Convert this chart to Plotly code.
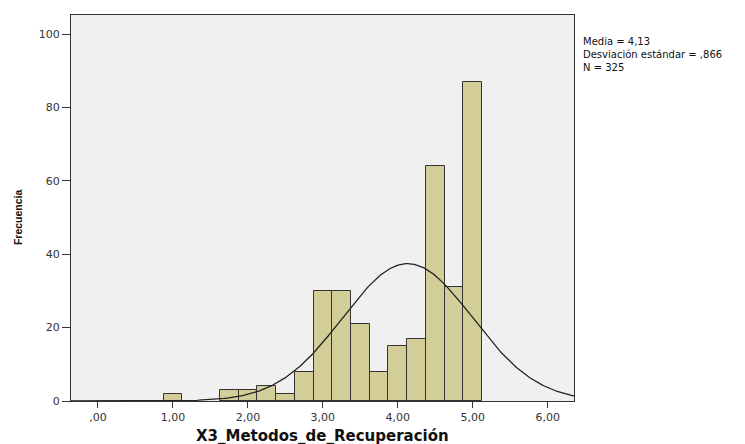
import numpy as np
import plotly.graph_objects as go

# ── Datos ─────────────────────────────────────────────────────────────
bin_centros = [1.00, 1.75, 2.00, 2.25, 2.50, 2.75, 3.00, 3.25, 3.50,
               3.75, 4.00, 4.25, 4.50, 4.75, 5.00]
frecuencias = [2, 3, 3, 4, 2, 8, 30, 30, 21, 8, 15, 17, 64, 31, 87]
ancho_bin = 0.25

media = 4.13
desviacion = 0.866
n_total = 325

tick_vals = [0, 1, 2, 3, 4, 5, 6]
tick_text = [",00", "1,00", "2,00", "3,00", "4,00", "5,00", "6,00"]
y_ticks = [0, 20, 40, 60, 80, 100]

stats_lineas = ["Media = 4,13", "Desviación estándar = ,866", f"N = {n_total}"]

FONT = "DejaVu Sans, sans-serif"
ARIAL = "Arial, Liberation Sans, sans-serif"
BAR_COLOR = "#d3ce98"
LINE_COLOR = "#333333"

x_min, x_max = -0.36, 6.35

fig = go.Figure()

fig.add_trace(go.Bar(
    x=bin_centros, y=frecuencias, width=ancho_bin,
    marker=dict(color=BAR_COLOR, line=dict(color=LINE_COLOR, width=1)),
    showlegend=False,
))

# Curva normal con la media y desviación del histograma
xs = np.linspace(x_min, x_max, 300)
ys = n_total * ancho_bin / (desviacion * np.sqrt(2 * np.pi)) * \
    np.exp(-0.5 * ((xs - media) / desviacion) ** 2)
fig.add_trace(go.Scatter(
    x=xs, y=ys, mode="lines",
    line=dict(color="#222222", width=1.3),
    showlegend=False, hoverinfo="skip",
))

# Cuadro de estadísticos
fig.add_annotation(
    xref="paper", yref="paper", x=1.014, y=(401 - 34) / 386,
    xanchor="left", yanchor="top", align="left", showarrow=False,
    text="<br>".join(stats_lineas),
    font=dict(family=FONT, size=10, color="#111"),
)

# Títulos de ejes
fig.add_annotation(
    xref="paper", yref="paper", x=-0.105, y=0.477,
    xanchor="center", yanchor="middle", textangle=-90, showarrow=False,
    text="<b>Frecuencia</b>", font=dict(family=ARIAL, size=10.5, color="#111"),
)
fig.add_annotation(
    xref="paper", yref="paper", x=0.5, y=-0.091,
    xanchor="center", yanchor="middle", showarrow=False,
    text="<b>X3_Metodos_de_Recuperación</b>",
    font=dict(family=FONT, size=15, color="#111"),
)

fig.update_layout(
    width=745, height=444,
    margin=dict(l=71, r=171, t=15, b=43),
    paper_bgcolor="white", plot_bgcolor="#f0f0f0",
    bargap=0,
    font=dict(family=FONT, color="#222"),
    xaxis=dict(
        range=[x_min, x_max], tickvals=tick_vals, ticktext=tick_text,
        showgrid=False, zeroline=False, automargin=False,
        showline=True, linecolor=LINE_COLOR, linewidth=1, mirror=True,
        ticks="outside", ticklen=6, tickcolor=LINE_COLOR,
        tickfont=dict(size=11, color="#333"),
    ),
    yaxis=dict(
        range=[0, 105.2], tickvals=y_ticks,
        showgrid=False, zeroline=False, automargin=False,
        showline=True, linecolor=LINE_COLOR, linewidth=1, mirror=True,
        ticks="outside", ticklen=8, tickcolor=LINE_COLOR,
        tickfont=dict(size=11, color="#333"),
    ),
)

# quitar el margen por defecto del <body> para que la figura quede en (0, 0)
fig.write_html("out.html", config={"displayModeBar": False},
               post_script="document.body.style.margin='0';")
